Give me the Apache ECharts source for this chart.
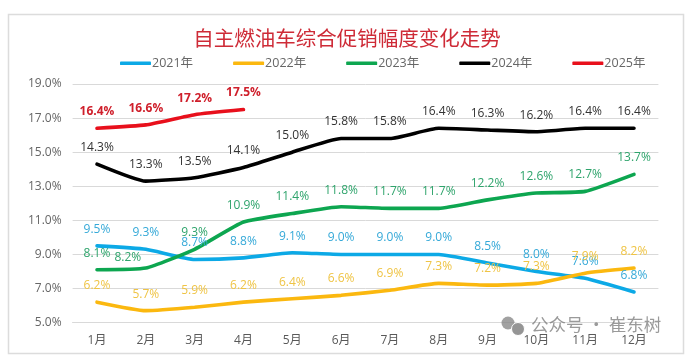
<!DOCTYPE html>
<html><head><meta charset="utf-8">
<style>html,body{margin:0;padding:0;background:#fff}#c{width:694px;height:359px}</style>
<script src="https://cdn.jsdelivr.net/npm/echarts@6/dist/echarts.min.js"></script>
</head><body><div id="c"></div>
<script>
const months = ['1月','2月','3月','4月','5月','6月','7月','8月','9月','10月','11月','12月'];
const y2021 = [9.5,9.3,8.7,8.8,9.1,9.0,9.0,9.0,8.5,8.0,7.6,6.8];
const y2022 = [6.2,5.7,5.9,6.2,6.4,6.6,6.9,7.3,7.2,7.3,7.9,8.2];
const y2023 = [8.1,8.2,9.3,10.9,11.4,11.8,11.7,11.7,12.2,12.6,12.7,13.7];
const y2024 = [14.3,13.3,13.5,14.1,15.0,15.8,15.8,16.4,16.3,16.2,16.4,16.4];
const y2025 = [16.4,16.6,17.2,17.5];
const titleText = '自主燃油车综合促销幅度变化走势';
const watermark = '公众号 · 崔东树';

const font = '"Open Sans","Noto Sans CJK SC",sans-serif';
function mk(name, data, color, labelColor, bold){
  return {
    name, type:'line', data, smooth:0.15, symbol:'circle', symbolSize:1, showAllSymbol:true,
    lineStyle:{color, width:3.6, cap:'round'}, itemStyle:{color},
    label:{show:true, position:'top', distance:10, color:labelColor, fontSize:12,
      fontFamily:font, fontWeight:bold?'bold':'normal',
      formatter:p=>Number(p.value).toFixed(1)+'%'}
  };
}
const series = [
  mk('2021年', y2021, '#0CA9E6', '#35A9D8'),
  mk('2022年', y2022, '#FBB80F', '#EFC445'),
  mk('2023年', y2023, '#0DA650', '#2FA46C'),
  mk('2024年', y2024, '#000000', '#333333'),
  mk('2025年', y2025, '#E8101C', '#CF1F2B', true)
];
// the 2023 February label sits left of its point in the reference
series[2].data = y2023.map((v,i)=> i===1 ? {value:v,label:{offset:[-18,6]}} : v);

const chart = echarts.init(document.getElementById('c'),null,{renderer:'canvas'});
chart.setOption({
  backgroundColor:'#fff', animation:false,
  title:{text:titleText, left:'center', top:23,
    textStyle:{color:'#CE2B37', fontSize:20.5, fontWeight:'normal', fontFamily:'"Noto Sans CJK SC",sans-serif'}},
  legend:{left:115, top:52, itemWidth:31, itemHeight:3.5, itemGap:40, icon:'roundRect',
    textStyle:{color:'#666', fontSize:12.5, fontFamily:font, padding:[0,0,0,-4]},
    data:series.map(s=>s.name)},
  grid:{left:72.6, right:35.6, top:84, bottom:36.4},
  xAxis:{type:'category', data:months, boundaryGap:true,
    axisTick:{show:false}, axisLine:{show:true,lineStyle:{color:'#D9D9D9',width:1}},
    axisLabel:{color:'#595959', fontSize:12, fontFamily:font, margin:12}},
  yAxis:{type:'value', min:5, max:19, interval:2,
    axisLine:{show:false}, axisTick:{show:false},
    splitLine:{lineStyle:{color:'#D9D9D9',width:1}},
    axisLabel:{color:'#666', fontSize:12, fontFamily:font, margin:11, formatter:v=>v.toFixed(1)+'%'}},
  series,
  graphic:[
    {type:'rect', z:-1, shape:{x:8.5,y:14.5,width:675,height:339}, style:{fill:'none',stroke:'#DCDCDC',lineWidth:1.5}},
    {type:'text', z:50, left:531, top:316, style:{text:watermark, fill:'rgba(120,120,120,0.75)', fontSize:17.5, fontFamily:'"Noto Sans CJK SC",sans-serif'}},
    {type:'circle', z:50, shape:{cx:508,cy:323,r:6.5}, style:{fill:'rgba(130,130,130,0.75)'}},
    {type:'circle', z:51, shape:{cx:518,cy:329,r:6.5}, style:{fill:'rgba(130,130,130,0.85)',stroke:'#fff',lineWidth:1}}
  ]
});
</script></body></html>
